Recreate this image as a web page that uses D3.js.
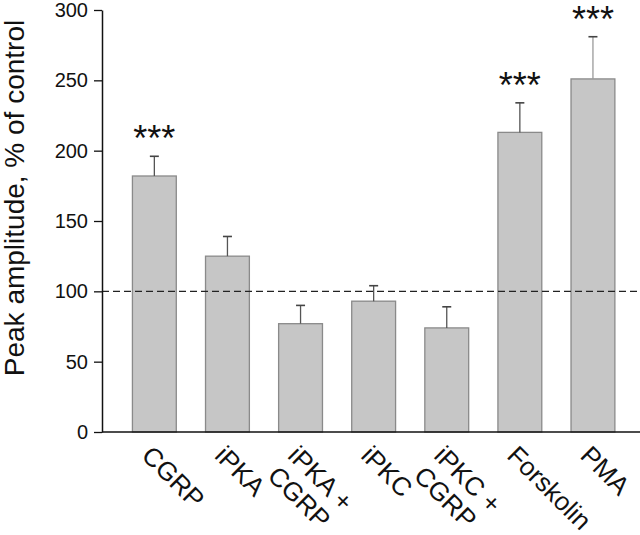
<!DOCTYPE html>
<html>
<head>
<meta charset="utf-8">
<script src="https://cdn.jsdelivr.net/npm/d3@7"></script>
<style>
  html, body { margin: 0; padding: 0; background: #fff; }
  svg { display: block; }
  text { font-family: "Liberation Sans", Arial, Helvetica, sans-serif; fill: #111; }
</style>
</head>
<body>
<svg id="chart" width="640" height="535"></svg>
<script>
// ---- data ----
const categories = ["CGRP", "iPKA", "iPKA +\nCGRP", "iPKC", "iPKC +\nCGRP", "Forskolin", "PMA"];
const values     = [182, 125, 77, 93, 74, 213, 251];
const errorTops  = [196, 139, 90, 104, 89, 234, 281];
const stars      = ["***", "", "", "", "", "***", "***"];
const yTicks     = [0, 50, 100, 150, 200, 250, 300];
const controlLevel = 100;
const yLabel = "Peak amplitude, % of control";

// ---- layout ----
const svg = d3.select("#chart");
const W = 640, H = 535;
const axisX = 102, y0 = 432, yTop = 10;

const y = d3.scaleLinear().domain([0, 300]).range([y0, yTop]);
const x = d3.scaleBand().domain(categories).range([117.8, 629.5])
  .paddingInner(0.4).paddingOuter(0.2);

// bars
svg.append("g").selectAll("rect").data(categories).join("rect")
  .attr("x", d => x(d))
  .attr("y", (d, i) => y(values[i]))
  .attr("width", x.bandwidth())
  .attr("height", (d, i) => y(0) - y(values[i]))
  .attr("fill", "#c6c6c6")
  .attr("stroke", "#8a8a8a")
  .attr("stroke-width", 1.3);

// error bars
const eg = svg.append("g");
categories.forEach((c, i) => {
  const cx = x(c) + x.bandwidth() / 2;
  eg.append("line")
    .attr("x1", cx).attr("x2", cx)
    .attr("y1", y(values[i])).attr("y2", y(errorTops[i]))
    .attr("stroke", i === 6 ? "#9a9a9a" : "#555").attr("stroke-width", 1.3);
  eg.append("line")
    .attr("x1", cx - 4.5).attr("x2", cx + 4.5)
    .attr("y1", y(errorTops[i])).attr("y2", y(errorTops[i]))
    .attr("stroke", "#444").attr("stroke-width", 1.6);
  if (stars[i]) {
    eg.append("text")
      .attr("x", cx).attr("y", y(errorTops[i]) - 5)
      .attr("text-anchor", "middle")
      .attr("font-size", 36)
      .text(stars[i]);
  }
});

// dashed control line
svg.append("line")
  .attr("x1", axisX).attr("x2", W)
  .attr("y1", y(controlLevel)).attr("y2", y(controlLevel))
  .attr("stroke", "#222").attr("stroke-width", 1.2)
  .attr("stroke-dasharray", "7,4");

// y axis
const yAxis = svg.append("g")
  .attr("transform", `translate(${axisX},0)`)
  .call(d3.axisLeft(y).tickValues(yTicks).tickSize(8).tickSizeOuter(0).tickPadding(6));
yAxis.select(".domain").attr("stroke", "#111").attr("stroke-width", 1.5);
yAxis.selectAll(".tick line").attr("stroke", "#111").attr("stroke-width", 1.3);
yAxis.selectAll(".tick text")
  .attr("font-size", 20)
  .attr("font-family", "'Liberation Sans', Arial, sans-serif")
  .attr("fill", "#111");

// x axis line
svg.append("line")
  .attr("x1", axisX).attr("x2", W)
  .attr("y1", y0).attr("y2", y0)
  .attr("stroke", "#111").attr("stroke-width", 1.6);

// x labels
const lg = svg.append("g");
categories.forEach(c => {
  const cx = x(c) + x.bandwidth() / 2;
  const t = lg.append("text")
    .attr("transform", `translate(${cx - 14},${457}) rotate(45)`)
    .attr("font-size", 26)
    .attr("text-anchor", "start");
  c.split("\n").forEach((line, k) => {
    t.append("tspan").attr("x", 0).attr("dy", k === 0 ? 0 : "1.1em").text(line);
  });
});

// y title
svg.append("text")
  .attr("transform", `translate(24,198) rotate(-90)`)
  .attr("text-anchor", "middle")
  .attr("font-size", 28)
  .text(yLabel);
</script>
</body>
</html>
